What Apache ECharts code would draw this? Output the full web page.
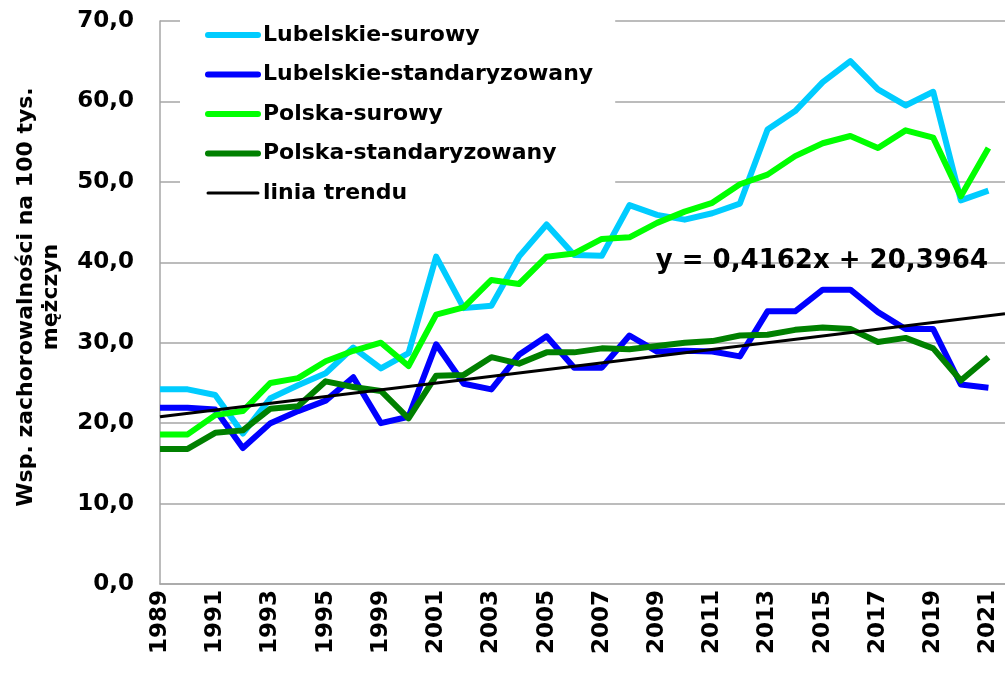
<!DOCTYPE html>
<html>
<head>
<meta charset="utf-8">
<script src="https://cdn.jsdelivr.net/npm/echarts@6/dist/echarts.min.js"></script>
<style>
  html, body { margin: 0; padding: 0; background: #fff; }
  #chart { width: 1005px; height: 673px; }
</style>
</head>
<body>
<div id="chart"></div>
<script>
// years on the category scale (one year between 1995 and 1999)
var years = ['1989', '1990', '1991', '1992', '1993', '1994', '1995', '1997', '1999', '2000',
  '2001', '2002', '2003', '2004', '2005', '2006', '2007', '2008', '2009', '2010',
  '2011', '2012', '2013', '2014', '2015', '2016', '2017', '2018', '2019', '2020', '2021'];

var lubSurowy = [24.2, 24.2, 23.5, 18.7, 23.1, 24.7, 26.2, 29.4, 26.8, 28.7,
  40.7, 34.3, 34.6, 40.7, 44.7, 40.9, 40.8, 47.1, 45.9, 45.3,
  46.1, 47.3, 56.5, 58.8, 62.4, 65.0, 61.5, 59.5, 61.2, 47.7, 48.9];
var lubStd = [21.9, 21.9, 21.7, 16.9, 20.0, 21.5, 22.8, 25.7, 20.0, 20.8,
  29.8, 24.9, 24.2, 28.5, 30.8, 26.9, 26.9, 30.9, 28.9, 29.0,
  28.9, 28.3, 33.9, 33.9, 36.6, 36.6, 33.8, 31.7, 31.7, 24.8, 24.4];
var plSurowy = [18.6, 18.6, 21.0, 21.5, 25.0, 25.6, 27.7, 29.0, 30.0, 27.1,
  33.5, 34.4, 37.8, 37.3, 40.7, 41.1, 42.9, 43.1, 44.9, 46.3,
  47.4, 49.7, 50.9, 53.2, 54.8, 55.7, 54.2, 56.4, 55.5, 48.2, 54.2];
var plStd = [16.8, 16.8, 18.8, 19.1, 21.8, 22.1, 25.2, 24.5, 24.0, 20.6,
  25.9, 26.0, 28.2, 27.4, 28.8, 28.8, 29.3, 29.2, 29.6, 30.0,
  30.2, 30.9, 31.0, 31.6, 31.9, 31.7, 30.1, 30.6, 29.3, 25.3, 28.2];

// trend line ends (x in category index units)
var trendX = [0, 30.6];
var trendY = [20.8, 33.6];

var seriesNames = ['Lubelskie-surowy', 'Lubelskie-standaryzowany', 'Polska-surowy',
  'Polska-standaryzowany', 'linia trendu'];
var colors = ['#00ccff', '#0000ff', '#00ff00', '#008000', '#000000'];
var equation = 'y = 0,4162x + 20,3964';

function pairs(vals) {
  return vals.map(function (v, i) { return [i, v]; });
}

var font = 'DejaVu Sans';
var myChart = echarts.init(document.getElementById('chart'));

var lineSeries = [lubSurowy, lubStd, plSurowy, plStd].map(function (vals, k) {
  return {
    name: seriesNames[k],
    type: 'line',
    data: pairs(vals),
    symbol: 'none',
    lineStyle: { color: colors[k], width: 6, join: 'round' },
    itemStyle: { color: colors[k] },
    animation: false
  };
});
lineSeries.push({
  name: seriesNames[4],
  type: 'line',
  data: trendX.map(function (x, i) { return [x, trendY[i]]; }),
  symbol: 'none',
  lineStyle: { color: colors[4], width: 3 },
  itemStyle: { color: colors[4] },
  animation: false
});

var option = {
  backgroundColor: '#fff',
  animation: false,
  grid: { left: 160, right: 0, top: 21, bottom: 89 },
  legend: {
    orient: 'vertical',
    left: 180,
    top: 14,
    padding: [10, 22, 10, 25],
    backgroundColor: '#fff',
    itemWidth: 50,
    itemHeight: 22,
    itemGap: 17.5,
    itemTextGap: 0,
    textStyle: { fontFamily: font, fontWeight: 'bold', fontSize: 22, color: '#000', lineHeight: 22 },
    data: seriesNames.map(function (n, k) {
      return {
        name: n,
        itemStyle: { opacity: 0 },
        lineStyle: { color: colors[k], width: k === 4 ? 3 : 6, cap: 'round' }
      };
    })
  },
  xAxis: {
    type: 'value',
    min: 0,
    max: 30.6,
    interval: 2,
    splitLine: { show: false },
    axisTick: { show: false },
    axisLine: { lineStyle: { color: '#a6a6a6', width: 1.5 } },
    axisLabel: {
      rotate: 90,
      margin: 6,
      color: '#000',
      fontFamily: font,
      fontWeight: 'bold',
      fontSize: 23,
      formatter: function (v) {
        return Number.isInteger(v) && years[v] ? years[v] : '';
      }
    }
  },
  yAxis: {
    type: 'value',
    min: 0,
    max: 70,
    interval: 10,
    axisLine: { show: true, lineStyle: { color: '#a6a6a6', width: 1.5 } },
    axisTick: { show: false },
    splitLine: { lineStyle: { color: '#a6a6a6', width: 1.5 } },
    axisLabel: {
      margin: 26,
      color: '#000',
      fontFamily: font,
      fontWeight: 'bold',
      fontSize: 23,
      formatter: function (v) { return v.toFixed(1).replace('.', ','); }
    }
  },
  graphic: [
    {
      type: 'text',
      x: 39,
      y: 297,
      rotation: Math.PI / 2,
      style: {
        text: 'Wsp. zachorowalności na 100 tys.\nmężczyn',
        font: 'bold 22px "DejaVu Sans"',
        fill: '#000',
        align: 'center',
        verticalAlign: 'middle',
        lineHeight: 25
      }
    },
    {
      type: 'text',
      x: 988,
      y: 261,
      z: 10,
      style: {
        text: equation,
        font: 'bold 26px "DejaVu Sans"',
        fill: '#000',
        align: 'right',
        verticalAlign: 'middle'
      }
    }
  ],
  series: lineSeries
};
myChart.setOption(option);
</script>
</body>
</html>
